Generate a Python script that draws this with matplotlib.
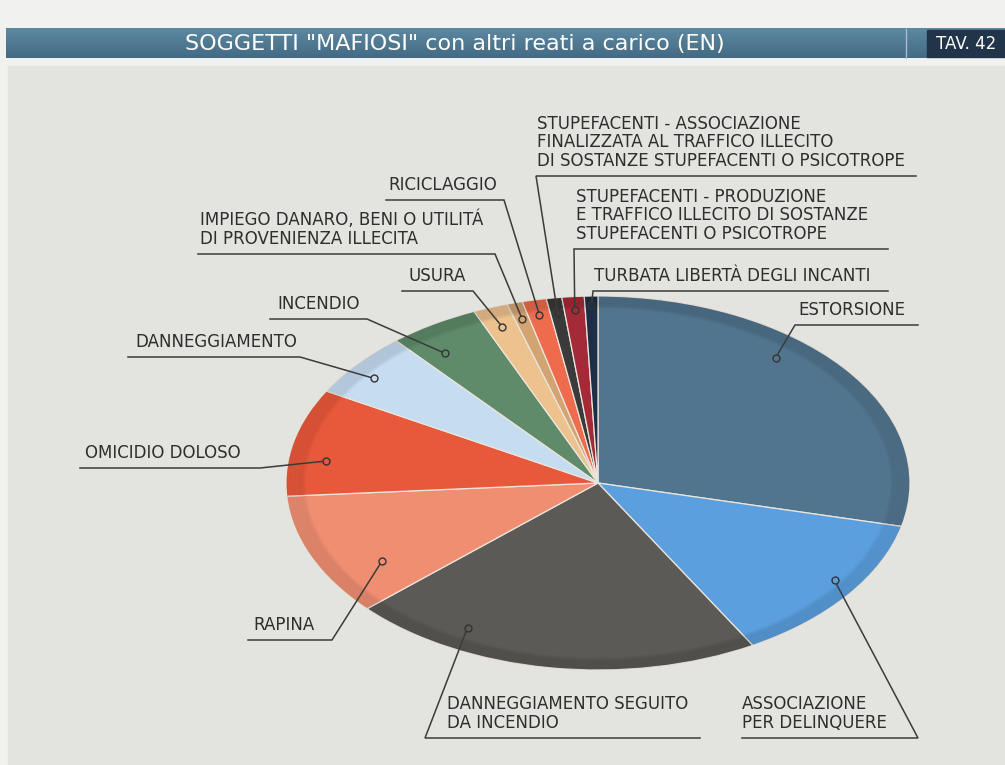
import matplotlib

matplotlib.use("Agg")
import matplotlib.pyplot as plt
import numpy as np
from matplotlib.patches import Rectangle, Circle

# Slices clockwise from 12 o'clock (share in %)
labels = [
    "ESTORSIONE",
    "ASSOCIAZIONE\nPER DELINQUERE",
    "DANNEGGIAMENTO SEGUITO\nDA INCENDIO",
    "RAPINA",
    "OMICIDIO DOLOSO",
    "DANNEGGIAMENTO",
    "INCENDIO",
    "USURA",
    "IMPIEGO DANARO, BENI O UTILITÁ\nDI PROVENIENZA ILLECITA",
    "RICICLAGGIO",
    "STUPEFACENTI - ASSOCIAZIONE\nFINALIZZATA AL TRAFFICO ILLECITO\nDI SOSTANZE STUPEFACENTI O PSICOTROPE",
    "STUPEFACENTI - PRODUZIONE\nE TRAFFICO ILLECITO DI SOSTANZE\nSTUPEFACENTI O PSICOTROPE",
    "TURBATA LIBERTÀ DEGLI INCANTI",
]
shares = [28.7, 13.0, 21.5, 10.6, 9.3, 5.6, 4.7, 1.8, 0.8, 1.25, 0.8, 1.15, 0.7]

colors = ["#52758f", "#5b9fdf", "#5b5a57", "#f08e72", "#e8583b", "#c6dcf1",
          "#5f8b6b", "#eec28f", "#d2a472", "#ef6b4d", "#3b3a3a", "#a52a37", "#1f2e47"]

# leader layout: (position inside wedge, radius, elbow x, line y, line end x, text x)
leaders = [
    (0.61, 0.88, 795, 325, 918, 798),
    (0.55, 0.92, 918, 738, 742, 742),
    (0.25, 0.88, 425, 738, 700, 447),
    (0.71, 0.81, 332, 640, 248, 253),
    (0.65, 0.88, 260, 468, 80, 85),
    (0.58, 0.91, 300, 357, 128, 135),
    (0.70, 0.85, 367, 319, 270, 277),
    (0.50, 0.89, 473, 291, 402, 408),
    (0.50, 0.91, 495, 254, 198, 200),
    (0.50, 0.92, 504, 200, 386, 388),
    (0.50, 0.92, 536, 176, 916, 537),
    (0.50, 0.93, 574, 249, 888, 576),
    (0.50, 0.95, 593, 291, 888, 594),
]

W, H = 1005, 765
fig = plt.figure(figsize=(W / 100, H / 100), dpi=100)
fig.patch.set_facecolor("#f1f1ef")

bg = fig.add_axes([0, 0, 1, 1])
bg.set_xlim(0, W)
bg.set_ylim(H, 0)
bg.axis("off")

# panel and header
bg.add_patch(Rectangle((8, 66), W - 8, H - 66, color="#e3e3df", zorder=0))
grad = np.linspace(0, 1, 30).reshape(-1, 1)
bg.imshow(grad, extent=(6, W, 58, 28), cmap=matplotlib.colors.LinearSegmentedColormap.from_list(
    "bar", ["#5d88a1", "#446b84"]), aspect="auto", zorder=1)
bg.add_patch(Rectangle((927, 30), W - 927, 27, color="#22344a", zorder=2))
bg.plot([906, 906], [29, 58], color="#a8bccb", lw=1, zorder=2)
bg.text(455, 44, "SOGGETTI \"MAFIOSI\" con altri reati a carico (EN)", color="white",
        fontsize=16, ha="center", va="center", zorder=3)
bg.text(966, 44, "TAV. 42", color="white", fontsize=12, ha="center", va="center", zorder=3)

# elliptical pie
cx, cy, rx, ry = 598, 483, 312, 187
pax = fig.add_axes([(cx - rx) / W, (H - cy - ry) / H, 2 * rx / W, 2 * ry / H])
wedges, _ = pax.pie(shares, colors=colors, startangle=90, counterclock=False, radius=1,
                    wedgeprops=dict(edgecolor="#ebe5dc", linewidth=0.9))
# darker rim, like the shaded original (kept inside the pie outline)
clip = Circle((0, 0), 1, transform=pax.transData)
for i in range(8):
    ring = pax.add_patch(Circle((0, 0), 1 - i * 0.008, fill=False, ec="black",
                                lw=3, alpha=0.045))
    ring.set_clip_path(clip)
pax.set_aspect("auto")
pax.set_xlim(-1, 1)
pax.set_ylim(-1, 1)
pax.axis("off")

ov = fig.add_axes([0, 0, 1, 1])
ov.set_xlim(0, W)
ov.set_ylim(H, 0)
ov.axis("off")
ov.patch.set_alpha(0)

inv = ov.transData.inverted()
for w, lab, col, (f, r, ex, ly, lx, tx) in zip(wedges, labels, colors, leaders):
    th = np.deg2rad(w.theta1 + f * (w.theta2 - w.theta1))
    dx, dy = inv.transform(pax.transData.transform((r * np.cos(th), r * np.sin(th))))
    ov.plot([dx, ex, lx], [dy, ly, ly], color="#3b3b3b", lw=1.1, solid_joinstyle="miter")
    ov.plot(dx, dy, "o", ms=5, mfc=col, mec="#333333", mew=1)
    ov.text(tx, ly - 6, lab, ha="left", va="bottom", fontsize=12, color="#2e2e2e",
            linespacing=1.05)

fig.savefig("out.png", dpi=100, facecolor=fig.get_facecolor())
